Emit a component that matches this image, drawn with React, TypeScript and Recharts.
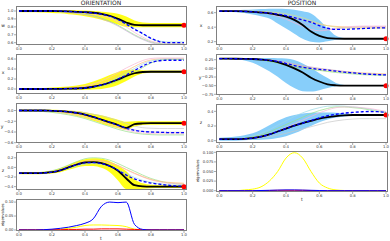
import React from "react";
import { ComposedChart, Line, Area, XAxis, YAxis, ReferenceDot } from "recharts";

// time grid shared by every panel
const T = [0, 0.05, 0.1, 0.15, 0.2, 0.25, 0.3, 0.35, 0.4, 0.45, 0.5, 0.55, 0.6, 0.65, 0.7, 0.75, 0.8, 0.85, 0.9, 0.95, 1.0];
const X_TICKS = [0, 0.2, 0.4, 0.6, 0.8, 1.0];

// ORIENTATION - w
const wBlack = [1.0, 1.0, 1.0, 1.0, 1.0, 0.998, 0.995, 0.99, 0.985, 0.978, 0.965, 0.94, 0.9, 0.855, 0.825, 0.82, 0.82, 0.82, 0.82, 0.82, 0.82];
const wBlue = [1.0, 1.0, 1.0, 1.0, 1.0, 0.998, 0.995, 0.99, 0.985, 0.975, 0.96, 0.935, 0.89, 0.835, 0.77, 0.715, 0.655, 0.615, 0.6, 0.6, 0.6];
const wLo = [0.985, 0.985, 0.985, 0.98, 0.975, 0.97, 0.96, 0.95, 0.935, 0.915, 0.89, 0.86, 0.83, 0.8, 0.795, 0.795, 0.795, 0.795, 0.795, 0.795, 0.795];
const wHi = [1.01, 1.01, 1.01, 1.01, 1.01, 1.01, 1.01, 1.01, 1.005, 1.0, 0.99, 0.98, 0.965, 0.93, 0.88, 0.855, 0.85, 0.85, 0.85, 0.85, 0.85];
const wThin1 = [1.0, 1.0, 1.0, 0.998, 0.995, 0.99, 0.985, 0.975, 0.96, 0.94, 0.91, 0.87, 0.82, 0.76, 0.7, 0.65, 0.61, 0.59, 0.585, 0.585, 0.585];
const wThin2 = [1.0, 1.0, 1.0, 1.0, 0.998, 0.995, 0.99, 0.985, 0.975, 0.96, 0.94, 0.91, 0.86, 0.8, 0.73, 0.67, 0.62, 0.6, 0.595, 0.595, 0.595];
const wThin3 = [1.0, 1.0, 1.0, 1.0, 1.0, 0.998, 0.995, 0.99, 0.98, 0.97, 0.955, 0.93, 0.89, 0.84, 0.78, 0.71, 0.65, 0.62, 0.61, 0.61, 0.61];
const wThin4 = [1.0, 1.0, 1.0, 0.998, 0.995, 0.99, 0.98, 0.97, 0.955, 0.935, 0.9, 0.86, 0.81, 0.75, 0.69, 0.64, 0.6, 0.58, 0.575, 0.575, 0.575];

// ORIENTATION - x
const xBlack = [0, 0, 0, 0, 0.002, 0.004, 0.006, 0.01, 0.02, 0.045, 0.08, 0.13, 0.19, 0.26, 0.315, 0.34, 0.345, 0.345, 0.345, 0.345, 0.345];
const xBlue = [0, 0, 0, 0, 0.002, 0.004, 0.006, 0.01, 0.02, 0.045, 0.08, 0.13, 0.2, 0.28, 0.37, 0.46, 0.53, 0.565, 0.575, 0.575, 0.575];
const xLo = [-0.015, -0.015, -0.015, -0.015, -0.015, -0.015, -0.015, -0.015, -0.015, -0.01, 0.0, 0.03, 0.08, 0.16, 0.25, 0.31, 0.325, 0.325, 0.325, 0.325, 0.325];
const xHi = [0.015, 0.015, 0.015, 0.02, 0.03, 0.04, 0.05, 0.07, 0.1, 0.15, 0.21, 0.28, 0.34, 0.38, 0.385, 0.375, 0.37, 0.37, 0.37, 0.37, 0.37];
const xThin1 = [0, 0, 0, 0, 0.002, 0.005, 0.01, 0.02, 0.04, 0.07, 0.12, 0.19, 0.27, 0.36, 0.45, 0.53, 0.58, 0.6, 0.605, 0.605, 0.605];
const xThin2 = [0, 0, 0, 0, 0, 0.003, 0.006, 0.012, 0.025, 0.05, 0.09, 0.15, 0.23, 0.32, 0.41, 0.5, 0.56, 0.59, 0.6, 0.6, 0.6];
const xThin3 = [0, 0, 0, 0.002, 0.005, 0.01, 0.02, 0.035, 0.06, 0.1, 0.16, 0.24, 0.33, 0.42, 0.5, 0.57, 0.61, 0.62, 0.62, 0.62, 0.62];
const xThin4 = [0, 0, 0, 0, 0, 0.002, 0.004, 0.008, 0.015, 0.03, 0.06, 0.1, 0.16, 0.24, 0.33, 0.43, 0.52, 0.57, 0.59, 0.59, 0.59];

// ORIENTATION - y
const yBlack = [0, 0, 0, 0, -0.005, -0.012, -0.025, -0.045, -0.075, -0.12, -0.17, -0.22, -0.27, -0.325, -0.255, -0.24, -0.235, -0.235, -0.235, -0.235, -0.235];
const yBlue = [0, 0, 0, 0, -0.005, -0.012, -0.025, -0.045, -0.075, -0.12, -0.17, -0.22, -0.275, -0.33, -0.37, -0.39, -0.4, -0.405, -0.41, -0.41, -0.41];
const yLo = [-0.015, -0.015, -0.015, -0.02, -0.03, -0.045, -0.07, -0.1, -0.14, -0.19, -0.24, -0.29, -0.33, -0.36, -0.3, -0.27, -0.265, -0.265, -0.265, -0.265, -0.265];
const yHi = [0.015, 0.015, 0.015, 0.015, 0.015, 0.01, 0.0, -0.01, -0.03, -0.06, -0.09, -0.13, -0.17, -0.21, -0.2, -0.195, -0.2, -0.2, -0.2, -0.2, -0.2];
const yThin1 = [0, 0, -0.005, -0.01, -0.02, -0.035, -0.055, -0.08, -0.115, -0.16, -0.21, -0.26, -0.31, -0.36, -0.4, -0.42, -0.43, -0.435, -0.435, -0.435, -0.435];
const yThin2 = [0, -0.005, -0.01, -0.02, -0.035, -0.055, -0.08, -0.11, -0.15, -0.2, -0.25, -0.3, -0.35, -0.39, -0.42, -0.44, -0.45, -0.455, -0.455, -0.455, -0.455];
const yThin3 = [0, 0, 0, 0, 0, -0.005, -0.01, -0.02, -0.04, -0.07, -0.1, -0.14, -0.19, -0.24, -0.29, -0.32, -0.33, -0.335, -0.335, -0.335, -0.335];
const yThin4 = [0, 0, 0, -0.005, -0.01, -0.02, -0.035, -0.055, -0.085, -0.12, -0.17, -0.22, -0.27, -0.32, -0.36, -0.39, -0.4, -0.405, -0.405, -0.405, -0.405];

// ORIENTATION - z
const zBlack = [-0.12, -0.12, -0.12, -0.115, -0.1, -0.06, 0.0, 0.06, 0.105, 0.11, 0.09, 0.03, -0.07, -0.23, -0.37, -0.395, -0.4, -0.4, -0.4, -0.4, -0.4];
const zBlue = [-0.12, -0.12, -0.12, -0.115, -0.1, -0.06, 0.0, 0.055, 0.095, 0.1, 0.08, 0.03, -0.06, -0.16, -0.24, -0.29, -0.325, -0.35, -0.37, -0.385, -0.39];
const zLo = [-0.14, -0.14, -0.14, -0.135, -0.125, -0.1, -0.05, 0.0, 0.03, 0.03, -0.01, -0.1, -0.27, -0.45, -0.46, -0.445, -0.435, -0.43, -0.43, -0.43, -0.43];
const zHi = [-0.1, -0.1, -0.1, -0.09, -0.07, -0.02, 0.05, 0.12, 0.17, 0.19, 0.18, 0.13, 0.04, -0.08, -0.25, -0.33, -0.36, -0.37, -0.37, -0.37, -0.37];
const zThin1 = [-0.12, -0.12, -0.115, -0.1, -0.07, -0.02, 0.05, 0.12, 0.18, 0.2, 0.19, 0.15, 0.08, 0.0, -0.08, -0.16, -0.23, -0.28, -0.32, -0.34, -0.35];
const zThin2 = [-0.12, -0.12, -0.12, -0.11, -0.09, -0.05, 0.01, 0.07, 0.12, 0.14, 0.13, 0.09, 0.03, -0.05, -0.13, -0.2, -0.26, -0.3, -0.33, -0.34, -0.35];
const zThin3 = [-0.12, -0.12, -0.12, -0.115, -0.1, -0.07, -0.02, 0.03, 0.07, 0.08, 0.06, 0.02, -0.05, -0.13, -0.21, -0.27, -0.31, -0.34, -0.36, -0.37, -0.37];
const zThin4 = [-0.12, -0.12, -0.12, -0.11, -0.09, -0.05, 0.02, 0.08, 0.13, 0.15, 0.14, 0.1, 0.04, -0.04, -0.12, -0.19, -0.25, -0.29, -0.31, -0.32, -0.33];

// ORIENTATION - eigenvalues
const oEigBlue = [0, 0, 0, 0.001, 0.003, 0.006, 0.01, 0.016, 0.024, 0.04, 0.085, 0.1, 0.098, 0.1, 0.02, 0.002, 0, 0, 0, 0, 0];
const oEigYellow = [0, 0, 0, 0, 0.001, 0.003, 0.006, 0.01, 0.016, 0.018, 0.018, 0.017, 0.016, 0.012, 0.003, 0.001, 0, 0, 0, 0, 0];
const oEigRed = [0.001, 0.001, 0.001, 0.001, 0.001, 0.001, 0.002, 0.002, 0.003, 0.003, 0.004, 0.004, 0.004, 0.003, 0.002, 0.001, 0.001, 0.001, 0.001, 0.001, 0.001];

// POSITION - x
const pxBlack = [0.62, 0.62, 0.62, 0.618, 0.612, 0.602, 0.59, 0.57, 0.545, 0.5, 0.43, 0.34, 0.28, 0.25, 0.242, 0.24, 0.24, 0.24, 0.24, 0.24, 0.24];
const pxBlue = [0.62, 0.62, 0.62, 0.618, 0.612, 0.605, 0.595, 0.58, 0.56, 0.53, 0.5, 0.47, 0.42, 0.385, 0.37, 0.37, 0.375, 0.38, 0.385, 0.39, 0.39];
const pxLo = [0.61, 0.61, 0.605, 0.595, 0.575, 0.55, 0.52, 0.45, 0.38, 0.31, 0.24, 0.2, 0.19, 0.205, 0.225, 0.232, 0.235, 0.235, 0.235, 0.235, 0.235];
const pxHi = [0.63, 0.63, 0.635, 0.64, 0.645, 0.65, 0.655, 0.655, 0.65, 0.64, 0.62, 0.59, 0.5, 0.38, 0.28, 0.25, 0.246, 0.245, 0.245, 0.245, 0.245];
const pxThin1 = [0.62, 0.62, 0.62, 0.62, 0.618, 0.612, 0.6, 0.585, 0.56, 0.53, 0.5, 0.47, 0.44, 0.42, 0.41, 0.405, 0.4, 0.4, 0.4, 0.4, 0.4];
const pxThin2 = [0.62, 0.62, 0.62, 0.618, 0.614, 0.605, 0.59, 0.57, 0.54, 0.5, 0.46, 0.42, 0.385, 0.37, 0.375, 0.39, 0.4, 0.405, 0.405, 0.405, 0.405];
const pxThin3 = [0.62, 0.62, 0.62, 0.618, 0.61, 0.6, 0.58, 0.55, 0.51, 0.46, 0.41, 0.37, 0.35, 0.36, 0.38, 0.4, 0.41, 0.415, 0.415, 0.415, 0.415];
const pxThin4 = [0.62, 0.62, 0.62, 0.62, 0.62, 0.615, 0.61, 0.6, 0.585, 0.56, 0.53, 0.49, 0.45, 0.42, 0.4, 0.39, 0.385, 0.385, 0.385, 0.385, 0.385];

// POSITION - y
const pyBlack = [0.28, 0.28, 0.278, 0.275, 0.27, 0.255, 0.23, 0.18, 0.1, 0.0, -0.12, -0.27, -0.38, -0.46, -0.49, -0.5, -0.5, -0.5, -0.5, -0.5, -0.5];
const pyBlue = [0.28, 0.28, 0.278, 0.275, 0.27, 0.255, 0.23, 0.2, 0.14, 0.08, 0.03, 0.0, -0.03, -0.05, -0.08, -0.11, -0.13, -0.15, -0.17, -0.18, -0.19];
const pyLo = [0.265, 0.265, 0.26, 0.23, 0.16, 0.05, -0.08, -0.24, -0.42, -0.57, -0.66, -0.67, -0.63, -0.57, -0.52, -0.505, -0.502, -0.502, -0.502, -0.502, -0.502];
const pyHi = [0.3, 0.3, 0.3, 0.3, 0.3, 0.3, 0.3, 0.295, 0.285, 0.24, 0.14, 0.01, -0.14, -0.28, -0.42, -0.48, -0.495, -0.498, -0.498, -0.498, -0.498];
const pyThin1 = [0.28, 0.28, 0.278, 0.275, 0.27, 0.26, 0.24, 0.21, 0.16, 0.11, 0.06, 0.02, -0.01, -0.04, -0.07, -0.09, -0.11, -0.13, -0.14, -0.15, -0.16];
const pyThin2 = [0.28, 0.28, 0.278, 0.275, 0.265, 0.25, 0.22, 0.18, 0.12, 0.06, 0.01, -0.02, -0.05, -0.08, -0.1, -0.12, -0.14, -0.16, -0.17, -0.18, -0.18];
const pyThin3 = [0.28, 0.28, 0.278, 0.272, 0.26, 0.24, 0.2, 0.15, 0.09, 0.04, 0.0, -0.03, -0.06, -0.09, -0.12, -0.14, -0.16, -0.18, -0.19, -0.2, -0.2];
const pyThin4 = [0.28, 0.28, 0.28, 0.278, 0.274, 0.265, 0.25, 0.22, 0.18, 0.13, 0.08, 0.04, 0.0, -0.03, -0.06, -0.09, -0.12, -0.14, -0.16, -0.17, -0.18];

// POSITION - z
const pzBlack = [0.02, 0.02, 0.02, 0.025, 0.035, 0.055, 0.085, 0.125, 0.165, 0.205, 0.24, 0.27, 0.3, 0.32, 0.335, 0.345, 0.35, 0.35, 0.35, 0.35, 0.35];
const pzBlue = [0.02, 0.02, 0.02, 0.025, 0.035, 0.055, 0.085, 0.125, 0.165, 0.205, 0.24, 0.275, 0.31, 0.34, 0.36, 0.375, 0.385, 0.393, 0.398, 0.395, 0.385];
const pzLo = [0.0, 0.0, 0.0, 0.005, 0.008, 0.012, 0.02, 0.035, 0.06, 0.1, 0.15, 0.2, 0.25, 0.29, 0.315, 0.33, 0.34, 0.345, 0.348, 0.35, 0.35];
const pzHi = [0.04, 0.045, 0.055, 0.075, 0.1, 0.15, 0.21, 0.27, 0.32, 0.35, 0.37, 0.38, 0.385, 0.385, 0.38, 0.372, 0.365, 0.36, 0.355, 0.352, 0.35];
const pzThin1 = [0.02, 0.02, 0.025, 0.035, 0.06, 0.1, 0.15, 0.21, 0.27, 0.33, 0.38, 0.42, 0.45, 0.47, 0.475, 0.47, 0.46, 0.45, 0.43, 0.41, 0.39];
const pzThin2 = [0.02, 0.02, 0.02, 0.03, 0.05, 0.08, 0.12, 0.17, 0.22, 0.27, 0.32, 0.37, 0.41, 0.44, 0.46, 0.46, 0.45, 0.44, 0.42, 0.4, 0.38];
const pzThin3 = [0.02, 0.02, 0.02, 0.025, 0.04, 0.06, 0.09, 0.13, 0.18, 0.23, 0.28, 0.33, 0.38, 0.42, 0.45, 0.46, 0.46, 0.45, 0.44, 0.42, 0.4];
const pzThin4 = [0.02, 0.02, 0.02, 0.022, 0.028, 0.04, 0.055, 0.075, 0.1, 0.13, 0.16, 0.19, 0.22, 0.25, 0.27, 0.285, 0.295, 0.3, 0.3, 0.3, 0.3];

// POSITION - eigenvalues
const pEigYellow = [0, 0, 0, 0.002, 0.004, 0.01, 0.025, 0.05, 0.085, 0.099, 0.085, 0.05, 0.02, 0.007, 0.002, 0.0005, 0, 0, 0, 0, 0];
const pEigBlue = [0, 0, 0, 0, 0, 0.0005, 0.001, 0.0015, 0.002, 0.002, 0.0015, 0.001, 0.0005, 0, 0, 0, 0, 0, 0, 0, 0];
const pEigRed = [0, 0, 0, 0, 0, 0.0002, 0.0005, 0.001, 0.001, 0.001, 0.001, 0.0005, 0.0002, 0, 0, 0, 0, 0, 0, 0, 0];

const FONT = "'DejaVu Sans', sans-serif";

const YW = 16;
const tickStyle = { fontSize: 3.8, fill: "#333", fontFamily: FONT };

const fmt = (d: number) => (v: number) => v.toFixed(d).replace("-", "\u2212");

type Box = { x: number; y: number; w: number; h: number };

type AxisCfg = {
  box: Box;
  xDomain: number[];
  yDomain: number[];
  yTicks: number[];
  digits: number;
};

function Frame({ box }: { box: Box }) {
  return (
    <div
      style={{
        position: "absolute",
        left: box.x,
        top: box.y,
        width: box.w,
        height: box.h,
        border: "1px solid #808080",
        boxSizing: "border-box",
        pointerEvents: "none",
      }}
    />
  );
}

function axes(cfg: AxisCfg) {
  return [
    <XAxis
      key="x"
      dataKey="t"
      type="number"
      domain={cfg.xDomain}
      ticks={X_TICKS}
      interval={0}
      tickFormatter={fmt(1)}
      tick={tickStyle}
      tickSize={2}
      tickMargin={0.5}
      tickLine={{ stroke: "#555", strokeWidth: 0.5 }}
      axisLine={false}
      height={8}
      allowDataOverflow
    />,
    <YAxis
      key="y"
      type="number"
      domain={cfg.yDomain}
      ticks={cfg.yTicks}
      interval={0}
      tickFormatter={fmt(cfg.digits)}
      tick={tickStyle}
      tickSize={2}
      tickMargin={0.5}
      tickLine={{ stroke: "#555", strokeWidth: 0.5 }}
      axisLine={false}
      width={YW}
      allowDataOverflow
    />,
  ];
}

function TrajPanel(props: AxisCfg & {
  black: number[];
  blue: number[];
  lo: number[];
  hi: number[];
  thin: number[][];
  thinColors: string[];
  bandColor: string;
  bandOpacity: number;
}) {
  const { box, black, blue, lo, hi, thin } = props;
  const rows = T.map((t, i) => {
    const r: any = { t, black: black[i], blue: blue[i], band: [lo[i], hi[i]] };
    thin.forEach((s, k) => (r["th" + k] = s[i]));
    return r;
  });
  return (
    <>
      <div style={{ position: "absolute", left: box.x - YW, top: box.y - 2 }}>
        <ComposedChart width={box.w + YW + 4} height={box.h + 10} data={rows} margin={{ top: 2, right: 4, bottom: 0, left: 0 }}>
          {axes(props)}
          <Area
            dataKey="band"
            type="monotone"
            fill={props.bandColor}
            fillOpacity={props.bandOpacity}
            stroke="none"
            isAnimationActive={false}
          />
          {thin.map((_, k) => (
            <Line
              key={k}
              dataKey={"th" + k}
              type="monotone"
              stroke={props.thinColors[k]}
              strokeWidth={0.7}
              dot={false}
              isAnimationActive={false}
            />
          ))}
          <Line dataKey="black" type="monotone" stroke="#000" strokeWidth={1.8} dot={false} isAnimationActive={false} />
          <Line
            dataKey="blue"
            type="monotone"
            stroke="#0000ff"
            strokeWidth={1.3}
            strokeDasharray="3 2"
            dot={false}
            isAnimationActive={false}
          />
          <ReferenceDot x={1} y={black[black.length - 1]} r={2.5} fill="#ff0000" stroke="none" />
        </ComposedChart>
      </div>
      <Frame box={box} />
    </>
  );
}

function EigPanel(props: AxisCfg & { series: { values: number[]; color: string }[] }) {
  const { box, series } = props;
  const rows = T.map((t, i) => {
    const r: any = { t };
    series.forEach((s, k) => (r["e" + k] = s.values[i]));
    return r;
  });
  return (
    <>
      <div style={{ position: "absolute", left: box.x - YW, top: box.y - 2 }}>
        <ComposedChart width={box.w + YW + 4} height={box.h + 10} data={rows} margin={{ top: 2, right: 4, bottom: 0, left: 0 }}>
          {axes(props)}
          {series.map((s, k) => (
            <Line
              key={k}
              dataKey={"e" + k}
              type="monotone"
              stroke={s.color}
              strokeWidth={1}
              dot={false}
              isAnimationActive={false}
            />
          ))}
        </ComposedChart>
      </div>
      <Frame box={box} />
    </>
  );
}

function Txt({ x, y, children, size = 5, rotate = false, w = 40 }: any) {
  return (
    <div
      style={{
        position: "absolute",
        left: x - w / 2,
        top: y - size / 2,
        width: w,
        textAlign: "center",
        fontSize: size,
        lineHeight: size + "px",
        fontFamily: FONT,
        color: "#222",
        whiteSpace: "nowrap",
        transform: rotate ? "rotate(-90deg)" : undefined,
      }}
    >
      {children}
    </div>
  );
}

const LX = [-0.018, 1.018];
const RX = [-0.02, 1.012];

export default function App() {
  return (
    <div style={{ position: "absolute", left: 0, top: 0, width: 390, height: 241, background: "#fff", overflow: "hidden" }}>
      <Txt x={101} y={3} size={6} w={80}>ORIENTATION</Txt>
      <Txt x={302} y={3} size={6} w={80}>POSITION</Txt>

      <TrajPanel
        box={{ x: 16, y: 6, w: 171, h: 39 }}
        xDomain={LX}
        yDomain={[0.571, 1.063]}
        yTicks={[0.6, 0.7, 0.8, 0.9, 1.0]}
        digits={1}
        black={wBlack}
        blue={wBlue}
        lo={wLo}
        hi={wHi}
        thin={[wThin1, wThin2, wThin3, wThin4]}
        thinColors={["#98df8a", "#f7b6d2", "#9edae5", "#c5b0d5"]}
        bandColor="#ffff00"
        bandOpacity={0.9}
      />
      <TrajPanel
        box={{ x: 16, y: 54, w: 171, h: 40 }}
        xDomain={LX}
        yDomain={[-0.1, 0.7]}
        yTicks={[0, 0.2, 0.4, 0.6]}
        digits={1}
        black={xBlack}
        blue={xBlue}
        lo={xLo}
        hi={xHi}
        thin={[xThin1, xThin2, xThin3, xThin4]}
        thinColors={["#ffbb78", "#9edae5", "#f7b6d2", "#98df8a"]}
        bandColor="#ffff00"
        bandOpacity={0.9}
      />
      <TrajPanel
        box={{ x: 16, y: 103, w: 171, h: 40 }}
        xDomain={LX}
        yDomain={[-0.605, 0.14]}
        yTicks={[-0.6, -0.4, -0.2, 0]}
        digits={1}
        black={yBlack}
        blue={yBlue}
        lo={yLo}
        hi={yHi}
        thin={[yThin1, yThin2, yThin3, yThin4]}
        thinColors={["#f7b6d2", "#98df8a", "#c7c7c7", "#c5b0d5"]}
        bandColor="#ffff00"
        bandOpacity={0.9}
      />
      <TrajPanel
        box={{ x: 16, y: 152, w: 171, h: 38 }}
        xDomain={LX}
        yDomain={[-0.47, 0.32]}
        yTicks={[-0.4, -0.2, 0, 0.2]}
        digits={1}
        black={zBlack}
        blue={zBlue}
        lo={zLo}
        hi={zHi}
        thin={[zThin1, zThin2, zThin3, zThin4]}
        thinColors={["#98df8a", "#f7b6d2", "#9edae5", "#ffbb78"]}
        bandColor="#ffff00"
        bandOpacity={0.9}
      />
      <EigPanel
        box={{ x: 16, y: 199, w: 171, h: 32 }}
        xDomain={LX}
        yDomain={[-0.0036, 0.111]}
        yTicks={[0, 0.05, 0.1]}
        digits={2}
        series={[
          { values: oEigYellow, color: "#ffff00" },
          { values: oEigRed, color: "#ff0000" },
          { values: oEigBlue, color: "#0000ff" },
        ]}
      />

      <TrajPanel
        box={{ x: 216, y: 6, w: 172, h: 39 }}
        xDomain={RX}
        yDomain={[0.154, 0.692]}
        yTicks={[0.2, 0.4, 0.6]}
        digits={1}
        black={pxBlack}
        blue={pxBlue}
        lo={pxLo}
        hi={pxHi}
        thin={[pxThin1, pxThin2, pxThin3, pxThin4]}
        thinColors={["#ffbb78", "#c5b0d5", "#f7b6d2", "#dbdb8d"]}
        bandColor="#87cefa"
        bandOpacity={1}
      />
      <TrajPanel
        box={{ x: 216, y: 54, w: 172, h: 41 }}
        xDomain={RX}
        yDomain={[-0.77, 0.415]}
        yTicks={[-0.75, -0.5, -0.25, 0, 0.25]}
        digits={2}
        black={pyBlack}
        blue={pyBlue}
        lo={pyLo}
        hi={pyHi}
        thin={[pyThin1, pyThin2, pyThin3, pyThin4]}
        thinColors={["#ffbb78", "#dbdb8d", "#98df8a", "#c5b0d5"]}
        bandColor="#87cefa"
        bandOpacity={1}
      />
      <TrajPanel
        box={{ x: 216, y: 104, w: 172, h: 39 }}
        xDomain={RX}
        yDomain={[-0.032, 0.5]}
        yTicks={[0, 0.2, 0.4]}
        digits={1}
        black={pzBlack}
        blue={pzBlue}
        lo={pzLo}
        hi={pzHi}
        thin={[pzThin1, pzThin2, pzThin3, pzThin4]}
        thinColors={["#9edae5", "#98df8a", "#f7b6d2", "#c7c7c7"]}
        bandColor="#87cefa"
        bandOpacity={1}
      />
      <EigPanel
        box={{ x: 216, y: 151, w: 172, h: 41 }}
        xDomain={RX}
        yDomain={[-0.0034, 0.1034]}
        yTicks={[0, 0.025, 0.05, 0.075, 0.1]}
        digits={3}
        series={[
          { values: pEigYellow, color: "#ffff00" },
          { values: pEigRed, color: "#ff0000" },
          { values: pEigBlue, color: "#0000ff" },
        ]}
      />

      <Txt x={3} y={26} size={4.5}>w</Txt>
      <Txt x={3} y={73} size={4.5}>x</Txt>
      <Txt x={2} y={127} size={4.5}>y</Txt>
      <Txt x={3} y={171} size={4.5}>z</Txt>
      <Txt x={3} y={215} size={3.8} rotate>eigenvalues</Txt>
      <Txt x={201} y={26} size={4.5}>x</Txt>
      <Txt x={200} y={78} size={4.5}>y</Txt>
      <Txt x={201} y={123} size={4.5}>z</Txt>
      <Txt x={198} y={171} size={3.8} rotate>eigenvalues</Txt>
      <Txt x={101} y={239} size={4.5}>t</Txt>
      <Txt x={302} y={200} size={4.5}>t</Txt>
    </div>
  );
}
